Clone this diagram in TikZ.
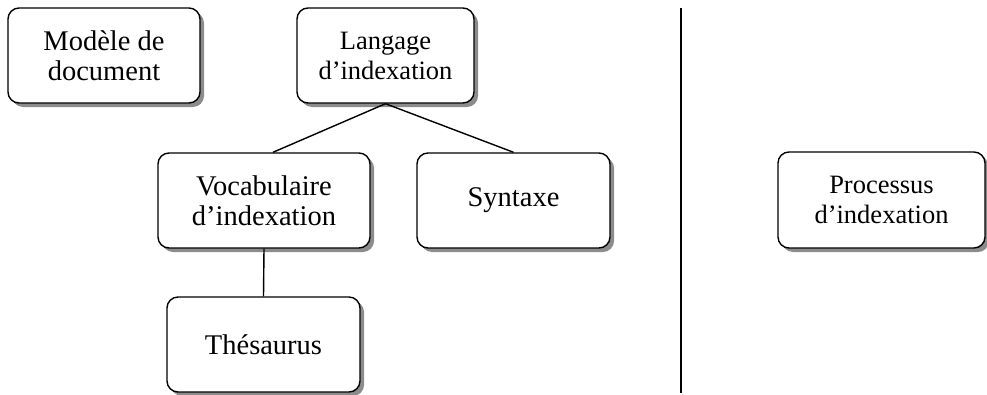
\documentclass[tikz,border=0pt]{standalone}
\usepackage{fontspec}
\setmainfont{Liberation Serif}
\usetikzlibrary{shadows}
\tikzset{
  box/.style={draw=black, line width=1.4pt, rounded corners=11pt, fill=white, align=center,
    inner sep=0pt, drop shadow={shadow xshift=4pt, shadow yshift=-4pt, fill=black!45, opacity=1}},
  big/.style={font=\fontsize{28.5}{30}\selectfont},
  small/.style={font=\fontsize{26.5}{30}\selectfont},
  link/.style={line width=1.4pt}
}
\begin{document}
\begin{tikzpicture}[x=1pt,y=1pt]
\useasboundingbox (0,0) rectangle (987,-394);
\node[box,big,minimum width=192pt,minimum height=95pt] (mod) at (104,-55.5) {Modèle de\\document};
\node[box,small,minimum width=177pt,minimum height=95pt] (lang) at (385.5,-55.5) {Langage\\d’indexation};
\node[box,big,minimum width=212pt,minimum height=95pt] (voc) at (264,-200.5) {Vocabulaire\\d’indexation};
\node[box,big,minimum width=193pt,minimum height=95pt] (syn) at (513.5,-200.5) {Syntaxe};
\node[box,big,minimum width=193pt,minimum height=95pt] (the) at (263.5,-344.5) {Thésaurus};
\node[box,small,minimum width=207pt,minimum height=96pt] (proc) at (881.5,-200) {Processus\\d’indexation};
\coordinate (vtop) at (681,-8);
\coordinate (vbot) at (681,-393);
\draw[link] (lang.south) -- ([xshift=9pt]voc.north);
\draw[link] (lang.south) -- (syn.north);
\draw[link] (voc.south) -- (the.north);
\draw[link] (vtop) -- (vbot);
\end{tikzpicture}
\end{document}
